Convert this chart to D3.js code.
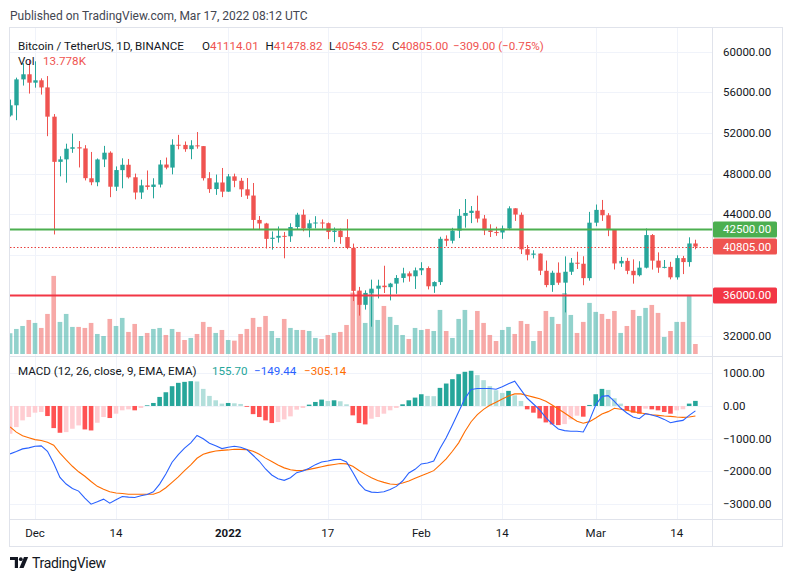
<!DOCTYPE html>
<html lang="en">
<head>
<meta charset="UTF-8">
<title>Bitcoin / TetherUS, 1D, BINANCE</title>
<script src="https://d3js.org/d3.v7.min.js"></script>
<style>
  body { margin: 0; background: #fff; }
  svg { display: block; font-family: Roboto, "Open Sans", sans-serif; }
</style>
</head>
<body>
<svg id="chart" width="793" height="582"></svg>
<script>
// ---- data ----
const dates = [
  "2021-11-27","2021-11-28","2021-11-29","2021-11-30",
  "2021-12-01","2021-12-02","2021-12-03","2021-12-04","2021-12-05","2021-12-06","2021-12-07","2021-12-08",
  "2021-12-09","2021-12-10","2021-12-11","2021-12-12","2021-12-13","2021-12-14","2021-12-15","2021-12-16",
  "2021-12-17","2021-12-18","2021-12-19","2021-12-20","2021-12-21","2021-12-22","2021-12-23","2021-12-24",
  "2021-12-25","2021-12-26","2021-12-27","2021-12-28","2021-12-29","2021-12-30","2021-12-31",
  "2022-01-01","2022-01-02","2022-01-03","2022-01-04","2022-01-05","2022-01-06","2022-01-07","2022-01-08",
  "2022-01-09","2022-01-10","2022-01-11","2022-01-12","2022-01-13","2022-01-14","2022-01-15","2022-01-16",
  "2022-01-17","2022-01-18","2022-01-19","2022-01-20","2022-01-21","2022-01-22","2022-01-23","2022-01-24",
  "2022-01-25","2022-01-26","2022-01-27","2022-01-28","2022-01-29","2022-01-30","2022-01-31",
  "2022-02-01","2022-02-02","2022-02-03","2022-02-04","2022-02-05","2022-02-06","2022-02-07","2022-02-08",
  "2022-02-09","2022-02-10","2022-02-11","2022-02-12","2022-02-13","2022-02-14","2022-02-15","2022-02-16",
  "2022-02-17","2022-02-18","2022-02-19","2022-02-20","2022-02-21","2022-02-22","2022-02-23","2022-02-24",
  "2022-02-25","2022-02-26","2022-02-27","2022-02-28",
  "2022-03-01","2022-03-02","2022-03-03","2022-03-04","2022-03-05","2022-03-06","2022-03-07","2022-03-08",
  "2022-03-09","2022-03-10","2022-03-11","2022-03-12","2022-03-13","2022-03-14","2022-03-15","2022-03-16",
  "2022-03-17"
];

const opens = [
  53724, 54721, 57274, 57776, 56950, 57184, 56484, 53602, 49152, 49397,
  50441, 50588, 50471, 47535, 47140, 49389, 50053, 46702, 48336, 48864,
  47632, 46134, 46834, 46681, 46914, 48887, 48588, 50838, 50819, 50399,
  50775, 50701, 47544, 46472, 47120, 46217, 47722, 47287, 46446, 45833,
  43431, 43081, 41566, 41680, 41864, 41822, 42735, 43946, 42592, 43099,
  43178, 43114, 42250, 42375, 41744, 40680, 36471, 35071, 36244, 36660,
  36958, 36809, 37160, 37716, 38166, 37881, 38466, 38694, 36896, 37311,
  41571, 41382, 42380, 43840, 44118, 44338, 43565, 42408, 42236, 42197,
  42586, 44578, 43937, 40552, 40001, 40118, 38423, 37017, 38230, 37254,
  38328, 39219, 39116, 37699, 43160, 44421, 43892, 42455, 39149, 39398,
  38420, 37988, 38730, 41941, 39422, 38730, 38807, 37777, 39671, 39280,
  41114.01
];
const highs = [
  55280, 57445, 58865, 59176, 59053, 57375, 57600, 53859, 49699, 50939,
  51936, 51200, 50797, 50125, 49485, 50724, 50189, 48700, 49500, 49436,
  47995, 47392, 48300, 47537, 49328, 49576, 51375, 51810, 51156, 51280,
  52088, 50704, 48139, 47900, 48548, 47954, 47990, 47570, 47557, 47070,
  43816, 43145, 42300, 42786, 42248, 43100, 44135, 44459, 43447, 43800,
  43478, 43179, 42691, 42574, 43505, 41100, 36835, 36499, 37550, 37545,
  38919, 37234, 38000, 38720, 38359, 38744, 39265, 38855, 37387, 41772,
  41913, 42656, 44500, 45492, 44799, 45821, 43920, 43000, 42760, 42876,
  44775, 44578, 44164, 40959, 40444, 40130, 39431, 38429, 39249, 39843,
  39683, 40300, 39855, 44225, 44949, 45400, 44101, 42527, 39794, 39693,
  39547, 39362, 42594, 42039, 40236, 39486, 39309, 39947, 39887, 41718,
  41478.82
];
const lows = [
  53610, 53256, 56666, 55875, 56458, 55777, 51680, 42000, 47727, 47100,
  50039, 48600, 47321, 46852, 46751, 48638, 45672, 46290, 46547, 47511,
  45456, 45500, 46406, 45558, 46630, 48421, 47920, 50384, 50142, 49412,
  50449, 47313, 46096, 45900, 45678, 46208, 46654, 45696, 45500, 42500,
  42431, 40610, 40501, 41200, 39650, 41268, 42528, 42311, 41725, 42590,
  42581, 41540, 41250, 41077, 40553, 35440, 34008, 34602, 32917, 35701,
  36234, 35507, 36155, 37268, 37351, 36632, 38000, 36586, 36250, 37026,
  40843, 41116, 41645, 42666, 43117, 43174, 41938, 41748, 41867, 41570,
  42428, 43334, 40073, 39450, 39639, 38000, 36800, 36350, 37036, 34322,
  38014, 38600, 37000, 37450, 42809, 43334, 41832, 38550, 38804, 38088,
  37155, 37867, 38656, 38540, 38223, 38660, 37578, 37555, 38098, 38828,
  40543.52
];
const closes = [
  54721, 57274, 57776, 56950, 57184, 56480, 53602, 49152, 49396, 50441,
  50588, 50471, 47545, 47140, 49389, 50053, 46702, 48343, 48864, 47632,
  46131, 46834, 46681, 46914, 48889, 48588, 50838, 50820, 50400, 50775,
  50701, 47543, 46464, 47120, 46216, 47722, 47286, 46446, 45833, 43431,
  43082, 41566, 41680, 41864, 41822, 42735, 43949, 42592, 43099, 43178,
  43114, 42250, 42375, 41744, 40680, 36445, 35071, 36244, 36660, 36958,
  36809, 37160, 37716, 38166, 37881, 38466, 38690, 36896, 37311, 41574,
  41382, 42380, 43840, 44118, 44338, 43565, 42407, 42244, 42197, 42586,
  44575, 43961, 40538, 40000, 40121, 38431, 37017, 38230, 37250, 38328,
  39219, 39116, 37699, 43160, 44421, 43892, 42454, 39148, 39397, 38420,
  37988, 38730, 41941, 39422, 38730, 38807, 37777, 39671, 39280, 41114,
  40805
];
// volume in thousands of BTC
const volumes = [
  28.6, 34.5, 38.6, 46.9, 42.8, 35.9, 55.2, 107.6, 44.2, 55.2,
  37.3, 37.3, 35.9, 42.8, 27.6, 24.8, 48.3, 38.6, 49.7, 30.4,
  41.4, 24.8, 29.0, 34.5, 35.9, 26.2, 34.5, 30.4, 19.3, 22.1,
  27.6, 44.2, 37.3, 29.0, 33.1, 19.3, 18.4, 27.6, 34.5, 49.7,
  37.3, 52.4, 31.7, 22.1, 48.3, 35.9, 33.1, 33.1, 31.7, 22.1,
  20.7, 26.2, 29.0, 30.4, 40.0, 84.6, 86.0, 42.8, 88.0, 46.9,
  66.2, 51.1, 40.0, 26.2, 20.7, 35.9, 33.1, 34.5, 31.7, 60.7,
  31.7, 22.1, 48.3, 60.7, 33.1, 59.3, 42.8, 26.2, 17.9, 33.1,
  37.3, 27.6, 45.5, 41.4, 17.9, 31.7, 59.3, 51.1, 41.4, 84.0,
  53.8, 29.0, 44.2, 70.4, 58.0, 55.2, 48.3, 59.3, 29.0, 38.6,
  60.7, 52.4, 63.5, 67.6, 56.6, 23.5, 31.7, 44.2, 44.2, 81.4,
  13.778
];
const macdLine = [
  -1467, -1395, -1313, -1282, -1231, -1220, -1385, -1754, -2185, -2390,
  -2523, -2605, -2820, -3005, -2933, -2851, -2974, -2872, -2769, -2790,
  -2800, -2749, -2708, -2626, -2390, -2082, -1723, -1487, -1292, -1128,
  -903, -1005, -1138, -1220, -1303, -1261, -1231, -1261, -1333, -1508,
  -1692, -1928, -2113, -2226, -2277, -2195, -2041, -1990, -1908, -1795,
  -1713, -1682, -1641, -1631, -1715, -2031, -2369, -2574, -2636, -2646,
  -2626, -2554, -2461, -2297, -2051, -1938, -1774, -1744, -1682, -1303,
  -974, -585, -174, 226, 503, 533, 533, 533, 513, 585,
  677, 759, 492, 236, 60, -120, -357, -550, -703, -754,
  -775, -775, -795, -440, 30, 295, 316, 143, -62, -215,
  -338, -390, -236, -277, -328, -410, -513, -472, -441, -287,
  -149.44
];
const signalLine = [
  -640, -800, -910, -970, -1030, -1055, -1110, -1200, -1440, -1650,
  -1845, -2015, -2150, -2310, -2460, -2550, -2625, -2665, -2680, -2700,
  -2700, -2700, -2700, -2700, -2630, -2503, -2338, -2170, -1980, -1800,
  -1600, -1480, -1420, -1380, -1360, -1345, -1325, -1328, -1335, -1383,
  -1479, -1596, -1702, -1808, -1894, -1950, -1978, -1970, -1940, -1901,
  -1858, -1818, -1790, -1762, -1772, -1846, -1973, -2094, -2199, -2282,
  -2338, -2386, -2404, -2359, -2297, -2215, -2133, -2061, -1979, -1805,
  -1620, -1385, -1128, -779, -482, -267, -103, 21, 113, 215,
  308, 369, 369, 318, 270, 224, 143, 31, -92, -214,
  -347, -469, -530, -479, -367, -245, -173, -70, -100, -133,
  -174, -205, -236, -267, -287, -308, -318, -338, -349, -338,
  -305.14
];
const histogram = [
  -851, -646, -441, -338, -205, -185, -308, -677, -820, -800,
  -697, -595, -718, -749, -513, -338, -369, -236, -133, -103,
  -133, -62, 20, 92, 277, 420, 605, 708, 738, 759,
  750, 523, 308, 174, 72, 92, 82, 62, -25, -250,
  -338, -441, -523, -492, -410, -318, -113, -62, 41, 123,
  195, 154, 174, 144, 51, -287, -523, -564, -390, -338,
  -236, -133, -60, 51, 174, 256, 359, 308, 300, 554,
  687, 820, 974, 1046, 1077, 944, 790, 605, 482, 400,
  462, 328, 154, -103, -205, -380, -503, -564, -585, -554,
  -410, -297, -328, 31, 359, 523, 492, 236, 72, -133,
  -205, -236, -82, -103, -133, -185, -236, -134, -100, 72,
  155.70
];

const timeTicks = ["2021-12-01","2021-12-14","2022-01-01","2022-01-17","2022-02-01","2022-02-14","2022-03-01","2022-03-14"];
const timeTickLabels = ["Dec","14","2022","17","Feb","14","Mar","14"];
const priceTicks = [32000, 36000, 40000, 44000, 48000, 52000, 56000, 60000];
const priceTickShown = [32000, 44000, 48000, 52000, 56000, 60000];
const macdTicks = [-3000, -2000, -1000, 0, 1000];
const levelGreen = 42500;
const levelRed = 36000;
const lastPrice = 40805;

// ---- layout ----
const svg = d3.select("#chart");
const paneL = 10, paneR = 712.5, axisR = 782;
const mainTop = 28, mainBot = 356, macdTop = 357, macdBot = 519.5, timeBot = 546;

const UP = "#26a69a", DOWN = "#ef5350";
const GRID = "#f0f3fa", BORDER = "#e0e3eb", TEXT = "#131722";

const parse = d3.utcParse("%Y-%m-%d");
const days = dates.map(parse);

const x = d3.scaleUtc().domain([days[0], days[days.length - 1]]).range([10.1, 695.4]);
const y = d3.scaleLinear().domain([32000, 60000]).range([336, 51.7]);
const yVol = d3.scaleLinear().domain([0, 110]).range([354, 354 - 110 / 1.378]);
const yMacd = d3.scaleLinear().domain([-3000, 1000]).range([504, 373.3]);

const bars = days.map((d, i) => ({
  d, o: opens[i], h: highs[i], l: lows[i], c: closes[i], v: volumes[i],
  m: macdLine[i], s: signalLine[i], hist: histogram[i], prev: i > 0 ? histogram[i - 1] : -Infinity
}));

// clip paths
const defs = svg.append("defs");
defs.append("clipPath").attr("id", "clipMain")
  .append("rect").attr("x", paneL).attr("y", mainTop).attr("width", paneR - paneL).attr("height", mainBot - mainTop);
defs.append("clipPath").attr("id", "clipMacd")
  .append("rect").attr("x", paneL).attr("y", macdTop).attr("width", paneR - paneL).attr("height", macdBot - macdTop);

// "Published on" line
svg.append("text").attr("x", 10).attr("y", 19.5)
  .attr("font-size", 12).attr("fill", "#434651")
  .text("Published on TradingView.com, Mar 17, 2022 08:12 UTC");

// frame
svg.append("rect").attr("x", paneL - 0.5).attr("y", mainTop - 0.5)
  .attr("width", axisR - paneL + 1).attr("height", timeBot - mainTop + 1)
  .attr("fill", "#fff").attr("stroke", BORDER);

// grid
const grid = svg.append("g");
grid.selectAll(".vg").data(timeTicks.map(parse)).join("line")
  .attr("x1", d => Math.round(x(d)) + 0.5).attr("x2", d => Math.round(x(d)) + 0.5)
  .attr("y1", mainTop).attr("y2", macdBot)
  .attr("stroke", GRID);
grid.selectAll(".hg").data(priceTicks).join("line")
  .attr("x1", paneL).attr("x2", paneR)
  .attr("y1", d => Math.round(y(d)) + 0.5).attr("y2", d => Math.round(y(d)) + 0.5)
  .attr("stroke", GRID);
grid.selectAll(".mg").data(macdTicks).join("line")
  .attr("x1", paneL).attr("x2", paneR)
  .attr("y1", d => Math.round(yMacd(d)) + 0.5).attr("y2", d => Math.round(yMacd(d)) + 0.5)
  .attr("stroke", GRID);

// separators
svg.append("line").attr("x1", paneL).attr("x2", axisR).attr("y1", mainBot + 0.5).attr("y2", mainBot + 0.5).attr("stroke", BORDER);
svg.append("line").attr("x1", paneL).attr("x2", axisR).attr("y1", macdBot).attr("y2", macdBot).attr("stroke", BORDER);
svg.append("line").attr("x1", paneR).attr("x2", paneR).attr("y1", mainTop).attr("y2", timeBot).attr("stroke", BORDER);

// main pane
const main = svg.append("g").attr("clip-path", "url(#clipMain)");
const bw = 4.4;

main.selectAll(".vol").data(bars).join("rect")
  .attr("x", d => x(d.d) - 2.3).attr("width", 4.6)
  .attr("y", d => yVol(d.v)).attr("height", d => yVol(0) - yVol(d.v))
  .attr("fill", d => d.c >= d.o ? "rgba(38,166,154,0.5)" : "rgba(239,83,80,0.5)");

main.selectAll(".wick").data(bars).join("line")
  .attr("x1", d => Math.round(x(d.d)) + 0.5).attr("x2", d => Math.round(x(d.d)) + 0.5)
  .attr("y1", d => y(d.h)).attr("y2", d => y(d.l))
  .attr("stroke", d => d.c >= d.o ? UP : DOWN).attr("stroke-width", 1);

main.selectAll(".body").data(bars).join("rect")
  .attr("x", d => Math.round(x(d.d)) + 0.5 - bw / 2).attr("width", bw)
  .attr("y", d => y(Math.max(d.o, d.c)))
  .attr("height", d => Math.max(1, Math.abs(y(d.o) - y(d.c))))
  .attr("fill", d => d.c >= d.o ? UP : DOWN);

// horizontal levels
main.append("line").attr("x1", paneL).attr("x2", paneR)
  .attr("y1", y(levelGreen)).attr("y2", y(levelGreen))
  .attr("stroke", "#4caf50").attr("stroke-width", 2);
main.append("line").attr("x1", paneL).attr("x2", paneR)
  .attr("y1", y(levelRed)).attr("y2", y(levelRed))
  .attr("stroke", "#f23645").attr("stroke-width", 2);
main.append("line").attr("x1", paneL).attr("x2", paneR)
  .attr("y1", Math.round(y(lastPrice)) + 0.5).attr("y2", Math.round(y(lastPrice)) + 0.5)
  .attr("stroke", "#e8403d").attr("stroke-width", 1).attr("stroke-dasharray", "1.5,2");

// MACD pane
const mp = svg.append("g").attr("clip-path", "url(#clipMacd)");
const histColor = d => d.hist >= 0
  ? (d.prev < d.hist ? "#26a69a" : "#b2dfdb")
  : (d.prev < d.hist ? "#ffcdd2" : "#ff5252");
mp.selectAll(".hist").data(bars).join("rect")
  .attr("x", d => x(d.d) - 2.3).attr("width", 4.6)
  .attr("y", d => Math.min(yMacd(0), yMacd(d.hist)))
  .attr("height", d => Math.abs(yMacd(d.hist) - yMacd(0)))
  .attr("fill", histColor);

const lineM = d3.line().x(d => x(d.d)).y(d => yMacd(d.m));
const lineS = d3.line().x(d => x(d.d)).y(d => yMacd(d.s));
mp.append("path").datum(bars).attr("d", lineS).attr("fill", "none").attr("stroke", "#ff6d00").attr("stroke-width", 1.1);
mp.append("path").datum(bars).attr("d", lineM).attr("fill", "none").attr("stroke", "#2962ff").attr("stroke-width", 1.1);

// price axis labels
const axisG = svg.append("g").attr("font-size", 11.5).attr("fill", TEXT);
axisG.selectAll(".pl").data(priceTickShown).join("text")
  .attr("x", 723).attr("y", d => y(d)).attr("dy", "0.35em").text(d => d3.format(".2f")(d));
axisG.selectAll(".ml").data(macdTicks).join("text")
  .attr("x", 723).attr("y", d => yMacd(d)).attr("dy", "0.35em")
  .text(d => d3.format(".2f")(d).replace("-", "\u2212"));

// price markers
const markers = [
  { v: levelGreen, fill: "#4caf50" },
  { v: lastPrice, fill: DOWN },
  { v: levelRed, fill: "#f23645" }
];
const mk = svg.append("g").selectAll("g").data(markers).join("g");
mk.append("rect").attr("x", 713).attr("width", 64).attr("y", d => y(d.v) - 8).attr("height", 16)
  .attr("rx", 1.5).attr("fill", d => d.fill);
mk.append("text").attr("x", 723).attr("y", d => y(d.v)).attr("dy", "0.35em")
  .attr("font-size", 11.5).attr("fill", "#fff").text(d => d3.format(".2f")(d.v));

// time axis labels
svg.append("g").selectAll("text").data(timeTicks).join("text")
  .attr("x", d => x(parse(d))).attr("y", 533).attr("dy", "0.35em")
  .attr("text-anchor", "middle").attr("font-size", 11.5).attr("fill", TEXT)
  .attr("font-weight", (d, i) => timeTickLabels[i] === "2022" ? "bold" : "normal")
  .text((d, i) => timeTickLabels[i]);

// legends
const lg = svg.append("g").attr("font-size", 11.6);
const hdr = lg.append("text").attr("y", 49.5).attr("fill", TEXT);
hdr.append("tspan").attr("x", 18).text("Bitcoin / TetherUS, 1D, BINANCE");
[["O", "41114.01", 202], ["H", "41478.82", 265.5], ["L", "40543.52", 329], ["C", "40805.00", 392]].forEach(([k, v, px]) => {
  hdr.append("tspan").attr("x", px).attr("fill", TEXT).text(k);
  hdr.append("tspan").attr("fill", DOWN).text(v);
});
hdr.append("tspan").attr("x", 453).attr("fill", DOWN).text("\u2212309.00 (\u22120.75%)");

const vl = lg.append("text").attr("y", 64.5).attr("fill", TEXT);
vl.append("tspan").attr("x", 18).text("Vol");
vl.append("tspan").attr("x", 43).attr("fill", DOWN).text("13.778K");

const ml = lg.append("text").attr("y", 374.5).attr("fill", TEXT);
ml.append("tspan").attr("x", 18).text("MACD (12, 26, close, 9, EMA, EMA)");
ml.append("tspan").attr("x", 212).attr("fill", UP).text("155.70");
ml.append("tspan").attr("x", 254).attr("fill", "#2962ff").text("\u2212149.44");
ml.append("tspan").attr("x", 304).attr("fill", "#ff6d00").text("\u2212305.14");

// footer logo
const logo = svg.append("g").attr("fill", TEXT);
logo.append("path").attr("d", "M10,557 h8 v11 h-3.2 v-8 h-4.8 z");
logo.append("circle").attr("cx", 20.8).attr("cy", 559.2).attr("r", 1.9);
logo.append("path").attr("d", "M24,557 h4.2 l-4.6,11 h-4.2 z");
svg.append("text").attr("x", 32).attr("y", 568).attr("font-size", 14).attr("fill", TEXT)
  .attr("letter-spacing", "-0.3").text("TradingView");
</script>
</body>
</html>
